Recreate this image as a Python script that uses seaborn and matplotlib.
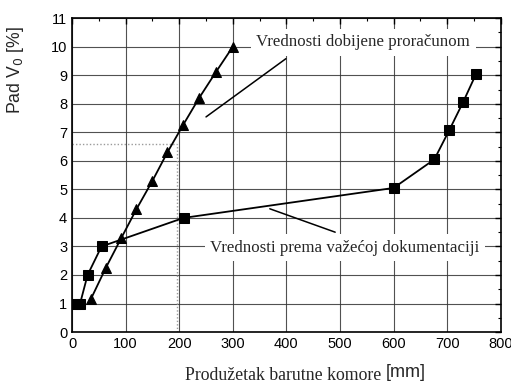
import matplotlib
matplotlib.use("Agg")
import matplotlib.pyplot as plt
import seaborn as sns
import pandas as pd

# Calculated drop of muzzle velocity (triangles)
calc_x = [35, 63, 92, 120, 150, 178, 207, 237, 268, 300]
calc_y = [1.15, 2.25, 3.3, 4.3, 5.3, 6.3, 7.25, 8.2, 9.1, 10.0]

# Values according to current documentation (squares)
doc_x = [5, 15, 29, 55, 208, 600, 676, 704, 730, 754]
doc_y = [1.0, 1.0, 2.0, 3.0, 4.0, 5.05, 6.05, 7.08, 8.07, 9.05]

x_ticks = [0, 100, 200, 300, 400, 500, 600, 700, 800]
y_ticks = [0, 1, 2, 3, 4, 5, 6, 7, 8, 9, 10, 11]

label_calc = "Vrednosti dobijene proračunom"
label_doc = "Vrednosti prema važećoj dokumentaciji"

# reading marker at 6.6 %
ref_x = 195
ref_y = 6.6

sns.set_style("white")
plt.rcParams["font.family"] = ["Liberation Sans", "DejaVu Sans"]

fig = plt.figure(figsize=(5.11, 3.87), dpi=100)
ax = fig.add_axes([0.141, 0.142, 0.839, 0.811])

df_calc = pd.DataFrame({"x": calc_x, "y": calc_y})
df_doc = pd.DataFrame({"x": doc_x, "y": doc_y})

ax.grid(True, which="major", color="#333333", linewidth=0.8, alpha=0.85)
ax.set_axisbelow(True)

ax.plot([0, ref_x], [ref_y, ref_y], color="#9a9a9a", linestyle=(0, (1, 1.5)), linewidth=1.0, zorder=1.5)
ax.plot([ref_x, ref_x], [0, ref_y], color="#9a9a9a", linestyle=(0, (1, 1.5)), linewidth=1.0, zorder=1.5)

sns.lineplot(data=df_calc, x="x", y="y", ax=ax, color="black", linewidth=1.3,
             marker="^", markersize=7, markeredgecolor="black", sort=False)
sns.lineplot(data=df_doc, x="x", y="y", ax=ax, color="black", linewidth=1.3,
             marker="s", markersize=7, markeredgecolor="black", sort=False)

serif = ["Liberation Serif", "DejaVu Serif"]
box = dict(facecolor="white", edgecolor="none", pad=4)
ax.text(543, 10.15, label_calc, family=serif, fontsize=12.2, ha="center", va="center",
        bbox=box, zorder=5)
ax.text(509, 2.95, label_doc, family=serif, fontsize=12.2, ha="center", va="center",
        bbox=box, zorder=5)

# leader lines from the labels to the curves
ax.plot([250, 399], [7.54, 9.58], color="black", linewidth=1.1, zorder=4)
ax.plot([369, 491], [4.32, 3.5], color="black", linewidth=1.1, zorder=4)

ax.set_xlim(0, 800)
ax.set_ylim(0, 11)
ax.set_xticks(x_ticks)
ax.set_yticks(y_ticks)
ax.set_xticks([50 + 100 * i for i in range(8)], minor=True)
ax.set_yticks([0.5 + i for i in range(11)], minor=True)
ax.tick_params(which="both", direction="in", top=True, right=True,
               labelsize=10.5, colors="black")
ax.tick_params(which="major", length=4, width=1)
ax.tick_params(which="minor", length=2, width=0.8)
for s in ax.spines.values():
    s.set_visible(True)
    s.set_color("black")
    s.set_linewidth(1.2)

ax.set_xlabel("")
ax.set_ylabel("")
fig.text(0.03, 0.819, "Pad V$_0$ [%]", fontsize=12.7, rotation=90,
         ha="center", va="center")

fig.text(0.755, 0.03, "Produžetak barutne komore ", family=serif, fontsize=12.8,
         ha="right", va="center")
fig.text(0.755, 0.037, "[mm]", fontsize=13, ha="left", va="center")

fig.savefig("out.png", dpi=100)
